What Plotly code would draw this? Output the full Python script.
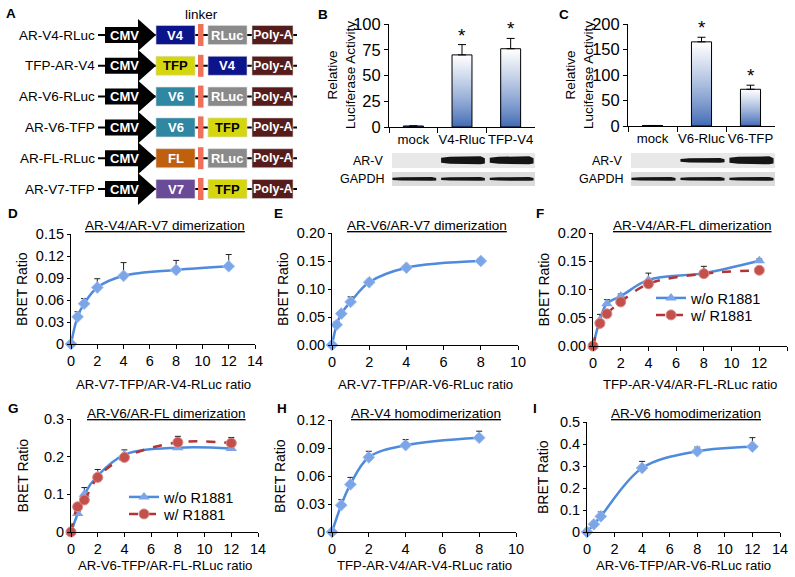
import plotly.graph_objects as go

W, H = 795, 577
FONT = "Liberation Sans, Arial, Helvetica, sans-serif"


def fx(p):
    return p / W


def fy(p):
    return 1 - p / H


# ---------------- Panel A: constructs ----------------
construct_names = ["AR-V4-RLuc", "TFP-AR-V4", "AR-V6-RLuc", "AR-V6-TFP", "AR-FL-RLuc", "AR-V7-TFP"]
first_parts = ["V4", "TFP", "V6", "V6", "FL", "V7"]
second_parts = ["RLuc", "V4", "RLuc", "TFP", "RLuc", "TFP"]
part_colors = {"V4": "#0c148c", "TFP": "#d6d60e", "V6": "#2f87a2", "FL": "#c0600f",
               "V7": "#6a4b98", "RLuc": "#8a8a8a", "Poly-A": "#561c1c"}

# ---------------- Panel B / C: luciferase bars ----------------
b_categories = ["mock", "V4-Rluc", "TFP-V4"]
b_values = [1, 70, 76]
b_errors = [0, 10, 10]
b_sig = [False, True, True]
b_arv_band = [0, 1.0, 1.0]
b_gapdh_band = [1.0, 1.0, 1.0]
b_yticks = [0, 25, 50, 75, 100]

c_categories = ["mock", "V6-Rluc", "V6-TFP"]
c_values = [1, 165, 72]
c_errors = [0, 9, 8]
c_sig = [False, True, True]
c_arv_band = [0, 0.6, 1.0]
c_gapdh_band = [1.0, 1.0, 1.0]
c_yticks = [0, 50, 100, 150, 200]

# ---------------- Panels D-I: BRET saturation curves ----------------
d_x = [0, 0.5, 1, 2, 4, 8, 12]
d_y = [0, 0.037, 0.055, 0.077, 0.093, 0.101, 0.106]
d_err = [0, 0.007, 0.007, 0.012, 0.018, 0.013, 0.016]

e_x = [0, 0.25, 0.5, 1, 2, 4, 8]
e_y = [0, 0.036, 0.056, 0.077, 0.112, 0.138, 0.150]
e_err = [0, 0.006, 0.003, 0.009, 0.005, 0.004, 0.002]

f_x = [0, 0.5, 1, 2, 4, 8, 12]
f_y_wo = [0, 0.046, 0.075, 0.088, 0.117, 0.129, 0.151]
f_err_wo = [0, 0.010, 0.007, 0.004, 0.012, 0.012, 0.003]
f_y_w = [0, 0.040, 0.057, 0.078, 0.110, 0.128, 0.134]
f_err_w = [0, 0.003, 0.003, 0.003, 0.004, 0.004, 0.003]

g_x = [0, 0.5, 1, 2, 4, 8, 12]
g_y_wo = [0, 0.049, 0.100, 0.150, 0.205, 0.224, 0.222]
g_err_wo = [0, 0.005, 0.018, 0.016, 0.013, 0.008, 0.006]
g_y_w = [0, 0.067, 0.085, 0.145, 0.198, 0.238, 0.236]
g_err_w = [0, 0.004, 0.004, 0.006, 0.006, 0.016, 0.015]

h_x = [0, 0.5, 1, 2, 4, 8]
h_y = [0, 0.0287, 0.051, 0.080, 0.093, 0.101]
h_err = [0, 0.006, 0.0075, 0.0065, 0.006, 0.007]

i_x = [0, 0.5, 1, 4, 8, 12]
i_y = [0, 0.035, 0.071, 0.291, 0.367, 0.388]
i_err = [0, 0.005, 0.020, 0.030, 0.019, 0.041]

legend_labels = ["w/o R1881", "w/ R1881"]

BLUE_LINE = "#4f8bdc"
BLUE_MK = "#7ba5e6"
RED_LINE = "#b33434"
RED_MK = "#c4504c"

fig = go.Figure()
shapes = []
annotations = []


def ann(x, y, text, size=14, color="black", xanchor="center", yanchor="middle",
        bold=False, angle=0):
    if bold:
        text = "<b>" + text + "</b>"
    annotations.append(dict(x=fx(x), y=fy(y), xref="paper", yref="paper", text=text,
                            showarrow=False, xanchor=xanchor, yanchor=yanchor,
                            textangle=angle, font=dict(size=size, color=color, family=FONT)))


# ---------------- draw panel A ----------------
row_y0, row_dy = 35, 30.8
for i, name in enumerate(construct_names):
    yc = row_y0 + i * row_dy
    shapes.append(dict(type="line", xref="paper", yref="paper", x0=fx(98), x1=fx(297),
                       y0=fy(yc), y1=fy(yc), line=dict(color="black", width=2), layer="below"))
    pts = [(105, yc - 8), (138, yc - 8), (138, yc - 16), (156, yc), (138, yc + 16),
           (138, yc + 8), (105, yc + 8)]
    path = "M " + " L ".join(f"{fx(a):.5f},{fy(b):.5f}" for a, b in pts) + " Z"
    shapes.append(dict(type="path", xref="paper", yref="paper", path=path,
                       fillcolor="black", line=dict(width=0)))
    ann(124, yc, "CMV", size=13, color="white", bold=True)
    boxes = [(first_parts[i], 156, 195), (second_parts[i], 208, 247), ("Poly-A", 252, 293)]
    for lab, x0, x1 in boxes:
        shapes.append(dict(type="rect", xref="paper", yref="paper", x0=fx(x0), x1=fx(x1),
                           y0=fy(yc - 9.5), y1=fy(yc + 9.5), fillcolor=part_colors[lab],
                           line=dict(color="#d8d8d8", width=0.6)))
        ann((x0 + x1) / 2, yc, lab, size=13 if lab != "Poly-A" else 12.5,
            color="black" if lab == "TFP" else "white", bold=True)
    shapes.append(dict(type="rect", xref="paper", yref="paper", x0=fx(198), x1=fx(203.5),
                       y0=fy(yc - 11), y1=fy(yc + 11), fillcolor="#f1705a", line=dict(width=0)))
    ann(97, yc, name, size=13.5, xanchor="right")
ann(201, 14, "linker", size=13.5)
ann(11, 13, "A", size=13.5, bold=True)

# ---------------- bar panels B and C ----------------
N_SEG = 40
BAR_BLUE = (56, 100, 178)


def grad_color(f):
    f = f ** 0.8
    r = int(BAR_BLUE[0] + (255 - BAR_BLUE[0]) * f)
    g = int(BAR_BLUE[1] + (255 - BAR_BLUE[1]) * f)
    b = int(BAR_BLUE[2] + (255 - BAR_BLUE[2]) * f)
    return f"rgb({r},{g},{b})"


def bar_panel(cats, vals, errs, sig, xa, ya):
    for k in range(N_SEG, 0, -1):
        frac = k / N_SEG
        fig.add_trace(go.Bar(x=cats, y=[v * frac for v in vals], width=0.41,
                             marker=dict(color=grad_color(frac), line=dict(width=0)),
                             xaxis=xa, yaxis=ya, showlegend=False, hoverinfo="skip"))
    fig.add_trace(go.Bar(x=cats, y=vals, width=0.41,
                         marker=dict(color="rgba(0,0,0,0)", line=dict(color="black", width=1)),
                         error_y=dict(type="data", array=errs, arrayminus=[0] * len(errs),
                                      symmetric=False, color="black", thickness=1, width=4),
                         xaxis=xa, yaxis=ya, showlegend=False))
    for c, v, e, s in zip(cats, vals, errs, sig):
        if s:
            annotations.append(dict(x=c, y=v + e, xref=xa, yref=ya, text="*", showarrow=False,
                                    yanchor="bottom", yshift=-3,
                                    font=dict(size=19, family=FONT, color="black")))


bar_panel(b_categories, b_values, b_errors, b_sig, "x", "y")
bar_panel(c_categories, c_values, c_errors, c_sig, "x2", "y2")

bar_axes = [("xaxis", "yaxis", (389, 535), (24, 127), b_categories, b_yticks, max(b_yticks)),
            ("xaxis2", "yaxis2", (628, 775), (24, 126), c_categories, c_yticks, max(c_yticks))]
layout_axes = {}
for xn, yn, (x0, x1), (y0, y1), cats, yt, ymax in bar_axes:
    layout_axes[xn] = dict(domain=[fx(x0), fx(x1)], anchor=yn.replace("axis", ""), type="category",
                           categoryorder="array", categoryarray=cats, range=[-0.5, 2.5],
                           tickson="boundaries", ticks="outside", ticklen=5, tickcolor="black",
                           tickangle=0, automargin=False,
                           showline=True, linecolor="black", linewidth=1, showgrid=False,
                           tickfont=dict(size=13.2, family=FONT, color="black"))
    layout_axes[yn] = dict(domain=[fy(y1), fy(y0)], anchor=xn.replace("axis", ""), range=[0, ymax],
                           tickvals=yt, ticks="outside", ticklen=4, tickcolor="black", automargin=False,
                           showline=True, linecolor="black", linewidth=1, showgrid=False,
                           zeroline=False, tickfont=dict(size=16.5, family=FONT, color="black"))

ann(341, 75, "Relative<br>Luciferase Activity", size=13.5, angle=-90)
ann(579, 75, "Relative<br>Luciferase Activity", size=13.5, angle=-90)
ann(323, 14, "B", size=13.5, bold=True)
ann(564, 14, "C", size=13.5, bold=True)


def blot(x0, x1, arv, gapdh, label_x):
    lane_w = (x1 - x0) / 3.0
    for (yt, yb, bg, bands, base_h) in [(153, 168, "#e8e8e8", arv, 7.5), (172, 186, "#dcdcdc", gapdh, 3.6)]:
        shapes.append(dict(type="rect", xref="paper", yref="paper", x0=fx(x0 + 3), x1=fx(x1),
                           y0=fy(yb), y1=fy(yt), fillcolor=bg, line=dict(width=0), layer="below"))
        yc = (yt + yb) / 2
        for j, inten in enumerate(bands):
            if inten <= 0:
                continue
            h = base_h * inten if base_h > 5 else base_h
            cx = x0 + lane_w * (j + 0.5) + 1
            hw = lane_w * 0.45
            pts = [(cx - hw, yc - h * 0.35), (cx - hw * 0.6, yc - h * 0.5), (cx + hw * 0.8, yc - h * 0.55),
                   (cx + hw, yc - h * 0.3), (cx + hw, yc + h * 0.4), (cx + hw * 0.8, yc + h * 0.5),
                   (cx - hw * 0.6, yc + h * 0.45), (cx - hw, yc + h * 0.3)]
            path = "M " + " L ".join(f"{fx(a):.5f},{fy(b):.5f}" for a, b in pts) + " Z"
            shapes.append(dict(type="path", xref="paper", yref="paper", path=path,
                               fillcolor="#151515", line=dict(width=0)))
    ann(label_x, 160.5, "AR-V", size=12.5, xanchor="right")
    ann(label_x, 179, "GAPDH", size=12.5, xanchor="right")


blot(389, 535, b_arv_band, b_gapdh_band, 386)
blot(628, 775, c_arv_band, c_gapdh_band, 625)

# ---------------- curve panels ----------------
curve_panels = [
    dict(letter="D", x=(71, 255), y=(234, 344), xr=14, yr=0.15,
         yt=[0, 0.03, 0.06, 0.09, 0.12, 0.15], ytxt=["0", "0.03", "0.06", "0.09", "0.12", "0.15"],
         title="AR-V4/AR-V7 dimerization", xlabel="AR-V7-TFP/AR-V4-RLuc ratio",
         series=[(d_x, d_y, d_err, "blue", None)], ylab_x=22, letter_pos=(13, 213)),
    dict(letter="E", x=(332, 518), y=(233, 345), xr=10, yr=0.20,
         yt=[0, 0.05, 0.10, 0.15, 0.20], ytxt=["0.00", "0.05", "0.10", "0.15", "0.20"],
         title="AR-V6/AR-V7 dimerization", xlabel="AR-V7-TFP/AR-V6-RLuc ratio",
         series=[(e_x, e_y, e_err, "blue", None)], ylab_x=283, letter_pos=(278, 213)),
    dict(letter="F", x=(593, 787), y=(233, 346), xr=14, yr=0.20,
         yt=[0, 0.05, 0.10, 0.15, 0.20], ytxt=["0.00", "0.05", "0.10", "0.15", "0.20"],
         title="AR-V4/AR-FL dimerization", xlabel="TFP-AR-V4/AR-FL-RLuc ratio",
         series=[(f_x, f_y_wo, f_err_wo, "blue_tri", ("legend", 298)),
                 (f_x, f_y_w, f_err_w, "red", ("legend2", 315))],
         leg_x=651, ylab_x=543, letter_pos=(540, 213)),
    dict(letter="G", x=(71, 258), y=(419, 532), xr=14, yr=0.3,
         yt=[0, 0.1, 0.2, 0.3], ytxt=["0", "0.1", "0.2", "0.3"],
         title="AR-V6/AR-FL dimerization", xlabel="AR-V6-TFP/AR-FL-RLuc ratio",
         series=[(g_x, g_y_wo, g_err_wo, "blue_tri", ("legend3", 497)),
                 (g_x, g_y_w, g_err_w, "red", ("legend4", 514))],
         leg_x=124, ylab_x=22, letter_pos=(13, 408)),
    dict(letter="H", x=(332, 516), y=(420, 532), xr=10, yr=0.12,
         yt=[0, 0.03, 0.06, 0.09, 0.12], ytxt=["0", "0.03", "0.06", "0.09", "0.12"],
         title="AR-V4 homodimerization", xlabel="TFP-AR-V4/AR-V4-RLuc ratio",
         series=[(h_x, h_y, h_err, "blue", None)], ylab_x=280, letter_pos=(282, 408)),
    dict(letter="I", x=(587, 780), y=(422, 532), xr=14, yr=0.5,
         yt=[0, 0.1, 0.2, 0.3, 0.4, 0.5], ytxt=["0", "0.1", "0.2", "0.3", "0.4", "0.5"],
         title="AR-V6 homodimerization", xlabel="AR-V6-TFP/AR-V6-RLuc ratio",
         series=[(i_x, i_y, i_err, "blue", None)], ylab_x=543, letter_pos=(535, 408)),
]

legends = {}
for n, p in enumerate(curve_panels):
    idx = n + 3
    xa, ya = f"x{idx}", f"y{idx}"
    x0, x1 = p["x"]
    y0, y1 = p["y"]
    layout_axes[f"xaxis{idx}"] = dict(domain=[fx(x0), fx(x1)], anchor=ya, range=[0, p["xr"]],
                                      dtick=2, ticks="outside", ticklen=4, tickcolor="black",
                                      showline=True, linecolor="black", linewidth=1, showgrid=False,
                                      zeroline=False, automargin=False,
                                      tickfont=dict(size=14.5, family=FONT, color="black"))
    layout_axes[f"yaxis{idx}"] = dict(domain=[fy(y1), fy(y0)], anchor=xa, range=[0, p["yr"]],
                                      tickvals=p["yt"], ticktext=p["ytxt"], ticks="outside", ticklen=3,
                                      tickcolor="black", showline=True, linecolor="black", linewidth=1,
                                      showgrid=False, zeroline=False, automargin=False,
                                      tickfont=dict(size=14.5, family=FONT, color="black"))
    for si, (sx, sy, se, style, leg) in enumerate(p["series"]):
        if style == "red":
            line = dict(color=RED_LINE, width=2.5, shape="spline", smoothing=1, dash="dash")
            marker = dict(symbol="circle", size=10, color=RED_MK, line=dict(color="#d88a86", width=1))
        elif style == "blue_tri":
            line = dict(color=BLUE_LINE, width=2.5, shape="spline", smoothing=1)
            marker = dict(symbol="triangle-up", size=10, color=BLUE_MK, line=dict(color=BLUE_MK, width=0))
        else:
            line = dict(color=BLUE_LINE, width=2.5, shape="spline", smoothing=1)
            marker = dict(symbol="diamond", size=9, color=BLUE_MK, line=dict(color="#9bbcef", width=1))
        tr = dict(x=sx, y=sy, mode="lines+markers", line=line, marker=marker, xaxis=xa, yaxis=ya,
                  cliponaxis=False,
                  error_y=dict(type="data", array=se, arrayminus=[0] * len(se), symmetric=False,
                               color="#222222", thickness=1, width=3))
        if leg:
            lname, ly = leg
            tr.update(name=legend_labels[si], showlegend=True, legend=lname)
            legends[lname] = dict(x=fx(p["leg_x"]), y=fy(ly), xanchor="left", yanchor="middle",
                                  bgcolor="rgba(0,0,0,0)", font=dict(size=14.5, family=FONT),
                                  tracegroupgap=0, itemwidth=30, borderwidth=0)
        else:
            tr.update(showlegend=False)
        fig.add_trace(go.Scatter(**tr))
    top_title_y = 225 if y0 < 300 else 413
    xlab_y = 384 if y0 < 300 else 565
    cx = (x0 + x1) / 2
    ann(cx + 2, top_title_y, "<u>" + p["title"] + "</u>", size=13.5)
    ann(cx, xlab_y, p["xlabel"], size=13.2)
    ann(p["ylab_x"], (y0 + y1) / 2, "BRET Ratio", size=14, angle=-90)
    ann(p["letter_pos"][0], p["letter_pos"][1], p["letter"], size=13.5, bold=True)

fig.update_layout(
    width=W, height=H, margin=dict(l=0, r=0, t=0, b=0, pad=0, autoexpand=False),
    paper_bgcolor="white", plot_bgcolor="rgba(0,0,0,0)",
    font=dict(family=FONT, size=14, color="black"),
    barmode="overlay", showlegend=True,
    shapes=shapes, annotations=annotations,
    **legends,
    **layout_axes,
)

fig.write_html("out.html", config={"displayModeBar": False},
               post_script="document.body.style.margin='0';document.body.style.padding='0';")
